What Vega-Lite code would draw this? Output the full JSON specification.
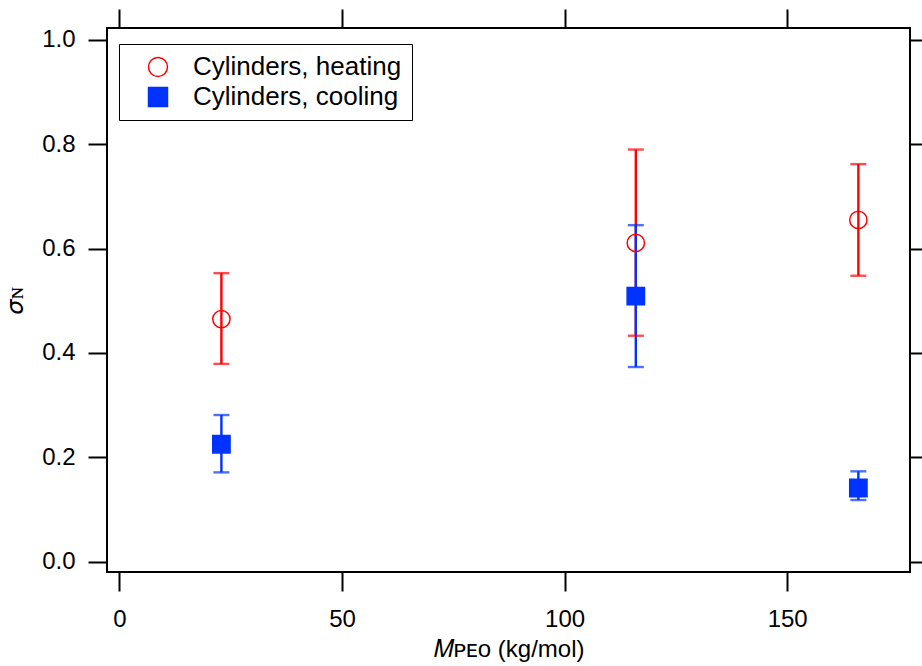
{
  "$schema": "https://vega.github.io/schema/vega-lite/v6.json",
  "width": 803,
  "height": 544,
  "autosize": {"type": "none"},
  "padding": {"left": 107, "top": 28, "right": 12, "bottom": 94},
  "background": "white",
  "config": {
    "view": {"stroke": "black", "strokeWidth": 2},
    "font": "Liberation Sans",
    "axis": {
      "domain": false,
      "grid": false,
      "ticks": true,
      "tickColor": "black",
      "tickWidth": 2,
      "tickSize": 19,
      "labelFont": "Liberation Sans",
      "labelFontSize": 24,
      "labelColor": "black",
      "titleFont": "Liberation Sans",
      "titleFontSize": 24,
      "titleFontWeight": "normal",
      "titleColor": "black"
    }
  },
  "data": {
    "values": [
      {"series": "Cylinders, heating", "M": 22.9, "sigma": 0.465, "lo": 0.379, "hi": 0.553},
      {"series": "Cylinders, heating", "M": 116.0, "sigma": 0.611, "lo": 0.433, "hi": 0.790},
      {"series": "Cylinders, heating", "M": 166.0, "sigma": 0.655, "lo": 0.548, "hi": 0.762},
      {"series": "Cylinders, cooling", "M": 22.9, "sigma": 0.225, "lo": 0.171, "hi": 0.281},
      {"series": "Cylinders, cooling", "M": 116.0, "sigma": 0.509, "lo": 0.373, "hi": 0.645},
      {"series": "Cylinders, cooling", "M": 166.0, "sigma": 0.141, "lo": 0.118, "hi": 0.173}
    ]
  },
  "resolve": {"axis": {"x": "independent", "y": "independent"}},
  "layer": [
    {
      "mark": {"type": "rule", "strokeWidth": 2.4},
      "encoding": {
        "x": {"field": "M", "type": "quantitative",
              "scale": {"domain": [-2.8, 177.6], "nice": false, "zero": false},
              "axis": {"orient": "bottom", "values": [0, 50, 100, 150], "labelPadding": 16, "titlePadding": 6,
                       "title": "𝑀ᴘᴇᴏ (kg/mol)"}},
        "y": {"field": "lo", "type": "quantitative",
              "scale": {"domain": [-0.02, 1.023], "nice": false, "zero": false},
              "axis": {"orient": "left", "values": [0, 0.2, 0.4, 0.6, 0.8, 1.0], "format": ".1f", "labelPadding": 13,
                       "titlePadding": 14, "title": "𝜎ɴ", "titleFont": "Liberation Serif"}},
        "y2": {"field": "hi"},
        "color": {"condition": {"test": "datum.series === 'Cylinders, heating'", "value": "#ff0000"}, "value": "#0033ff"}
      }
    },
    {
      "mark": {"type": "tick", "orient": "horizontal", "size": 16, "thickness": 2.4},
      "encoding": {
        "x": {"field": "M", "type": "quantitative", "axis": null},
        "y": {"field": "lo", "type": "quantitative", "axis": null},
        "color": {"condition": {"test": "datum.series === 'Cylinders, heating'", "value": "#ff0000"}, "value": "#0033ff"}
      }
    },
    {
      "mark": {"type": "tick", "orient": "horizontal", "size": 16, "thickness": 2.4},
      "encoding": {
        "x": {"field": "M", "type": "quantitative", "axis": null},
        "y": {"field": "hi", "type": "quantitative", "axis": null},
        "color": {"condition": {"test": "datum.series === 'Cylinders, heating'", "value": "#ff0000"}, "value": "#0033ff"}
      }
    },
    {
      "mark": {"type": "point", "filled": false, "size": 300, "strokeWidth": 1.5, "opacity": 1},
      "encoding": {
        "x": {"field": "M", "type": "quantitative",
              "axis": {"orient": "top", "labels": false, "values": [0, 50, 100, 150], "title": null}},
        "y": {"field": "sigma", "type": "quantitative",
              "axis": {"orient": "right", "labels": false, "values": [0, 0.2, 0.4, 0.6, 0.8, 1.0], "title": null}},
        "color": {"field": "series", "type": "nominal", "title": null,
                  "scale": {"domain": ["Cylinders, heating", "Cylinders, cooling"], "range": ["#ff0000", "#0033ff"]},
                  "legend": {
                    "orient": "none", "legendX": 12, "legendY": 16,
                    "strokeColor": "black", "padding": 10, "fillColor": "white",
                    "labelFontSize": 26, "labelFont": "Liberation Sans", "labelColor": "black",
                    "symbolSize": 360, "symbolStrokeWidth": 1.5, "symbolOffset": 16,
                    "labelOffset": 22, "rowPadding": 4, "labelLimit": 400
                  }},
        "fill": {"field": "series", "type": "nominal", "title": null,
                 "scale": {"domain": ["Cylinders, heating", "Cylinders, cooling"], "range": ["transparent", "#0033ff"]}},
        "shape": {"field": "series", "type": "nominal", "title": null,
                  "scale": {"domain": ["Cylinders, heating", "Cylinders, cooling"], "range": ["circle", "square"]}}
      }
    }
  ]
}
